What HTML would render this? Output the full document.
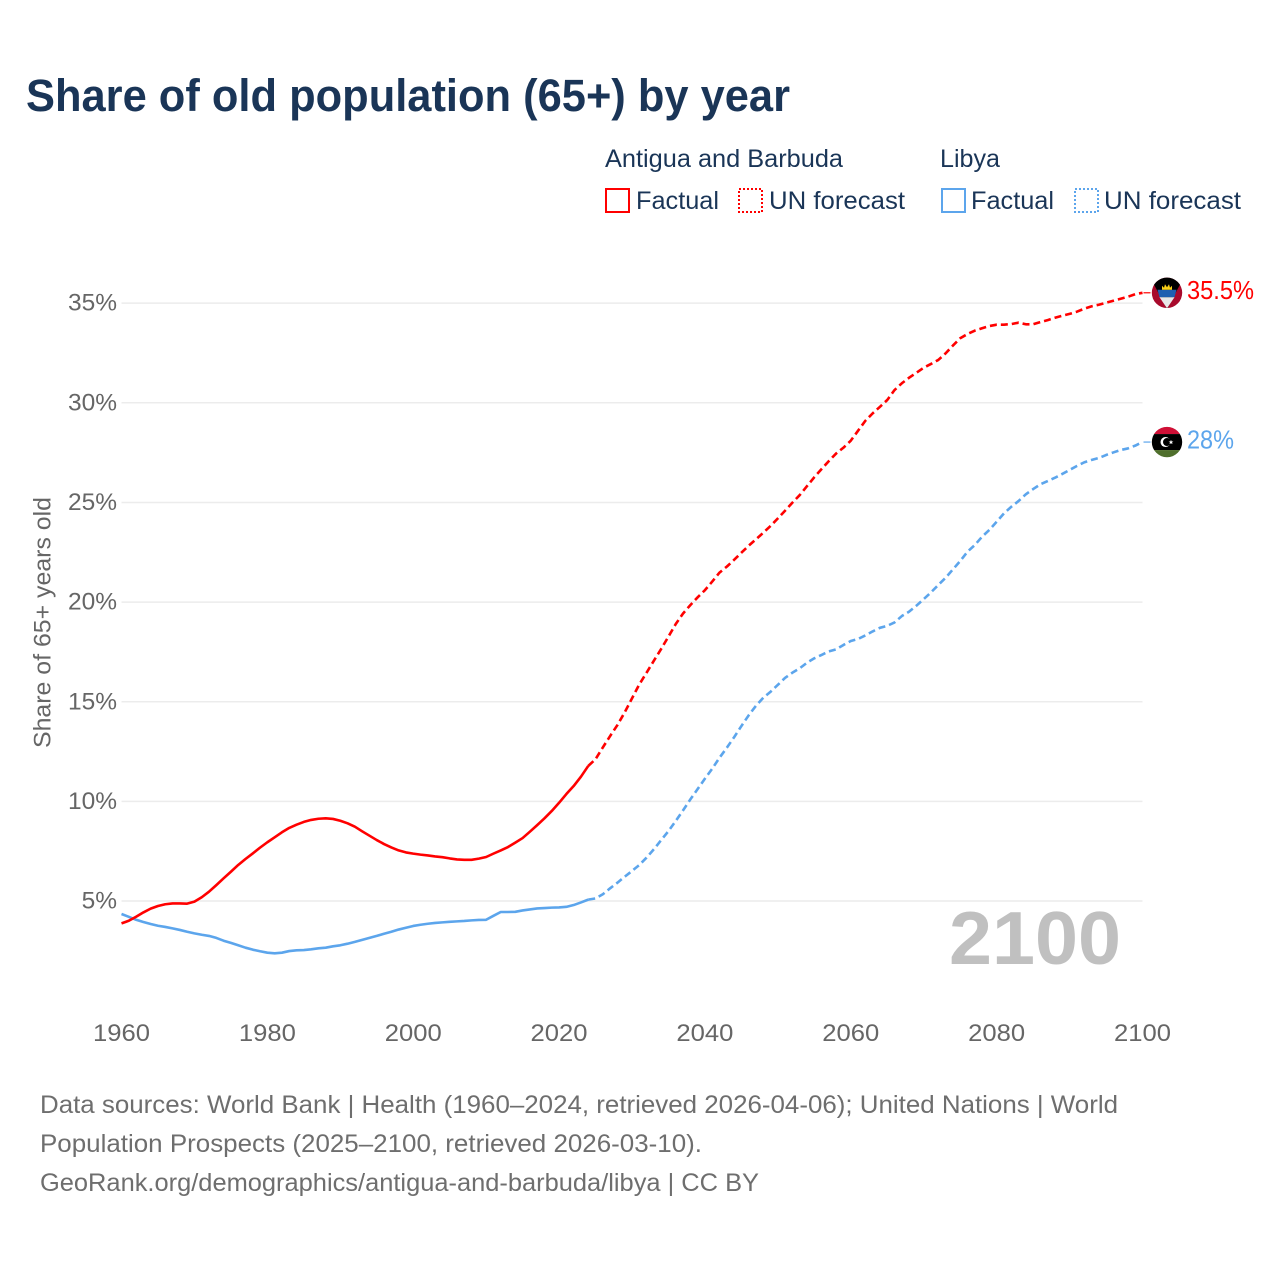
<!DOCTYPE html>
<html lang="en">
<head>
<meta charset="utf-8">
<title>Share of old population (65+) by year</title>
<style>
html,body{margin:0;padding:0;background:#fff;}
svg{display:block;}
text{font-family:"Liberation Sans",sans-serif;}
</style>
</head>
<body>
<svg id="chart" xmlns="http://www.w3.org/2000/svg" width="1280" height="1280" viewBox="0 0 1280 1280">
  <rect x="0" y="0" width="1280" height="1280" fill="#fff"/>
  <text x="26" y="111" font-size="45" font-weight="700" fill="#1a3557" textLength="764" lengthAdjust="spacingAndGlyphs">Share of old population (65+) by year</text>

  <g font-size="25" fill="#1a3557">
    <text x="605" y="167" textLength="238" lengthAdjust="spacingAndGlyphs">Antigua and Barbuda</text>
    <text x="940" y="167" textLength="60" lengthAdjust="spacingAndGlyphs">Libya</text>
    <rect x="606" y="189" width="23" height="23" fill="none" stroke="#ff0000" stroke-width="2"/>
    <text x="636" y="209" textLength="83" lengthAdjust="spacingAndGlyphs">Factual</text>
    <rect x="739" y="189" width="23" height="23" fill="none" stroke="#ff0000" stroke-width="2" stroke-dasharray="2,2"/>
    <text x="769" y="209" textLength="136" lengthAdjust="spacingAndGlyphs">UN forecast</text>
    <rect x="942" y="189" width="23" height="23" fill="none" stroke="#5ca5ec" stroke-width="2"/>
    <text x="971" y="209" textLength="83" lengthAdjust="spacingAndGlyphs">Factual</text>
    <rect x="1075" y="189" width="23" height="23" fill="none" stroke="#5ca5ec" stroke-width="2" stroke-dasharray="2,2"/>
    <text x="1104" y="209" textLength="137" lengthAdjust="spacingAndGlyphs">UN forecast</text>
  </g>

  <g id="grid"></g>
  <g id="yticks"></g>
  <g id="xticks"></g>
  <text transform="translate(50.5,622.5) rotate(-90)" text-anchor="middle" font-size="24" fill="#666" textLength="251" lengthAdjust="spacingAndGlyphs">Share of 65+ years old</text>

  <text x="949" y="964" font-size="75" font-weight="700" fill="#c0c0c0" textLength="172" lengthAdjust="spacingAndGlyphs">2100</text>

  <g id="series" fill="none" stroke-linejoin="round"></g>

  <defs>
    <clipPath id="flagClip"><circle cx="0" cy="0" r="15.2"/></clipPath>
  </defs>
  <g id="flag-antigua">
    <g clip-path="url(#flagClip)">
      <rect x="-16" y="-16" width="32" height="32" fill="#a80a2c"/>
      <polygon points="-14,-16 14,-16 14,-10 0,16 -14,-10" fill="#000"/>
      <polygon points="-9.5,-3 9.5,-3 7.5,4.5 -7.5,4.5" fill="#1f5fb0"/>
      <polygon points="-7.5,4.5 7.5,4.5 0,15.5" fill="#e8e8e8"/>
      <path d="M-5,-3 L-5,-7 L-3,-5 L-2,-8.5 L0,-5.5 L2,-8.5 L3,-5 L5,-7 L5,-3 Z" fill="#fcd116"/>
    </g>
  </g>
  <g id="flag-libya">
    <g clip-path="url(#flagClip)">
      <rect x="-16" y="-16" width="32" height="8" fill="#cf1036"/>
      <rect x="-16" y="-8" width="32" height="16" fill="#000"/>
      <rect x="-16" y="8" width="32" height="8" fill="#4f6f2c"/>
      <circle cx="-1.5" cy="0" r="5" fill="#fff"/>
      <circle cx="0" cy="0" r="4" fill="#000"/>
      <polygon points="4,-2.2 4.7,-0.6 6.4,-0.6 5,0.5 5.5,2.1 4,1.2 2.5,2.1 3,0.5 1.6,-0.6 3.3,-0.6" fill="#fff"/>
    </g>
  </g>
  <g id="end-labels"></g>

  <g font-size="25" fill="#6e6e6e">
    <text x="40" y="1113" textLength="1078" lengthAdjust="spacingAndGlyphs">Data sources: World Bank | Health (1960–2024, retrieved 2026-04-06); United Nations | World</text>
    <text x="40" y="1152" textLength="662" lengthAdjust="spacingAndGlyphs">Population Prospects (2025–2100, retrieved 2026-03-10).</text>
    <text x="40" y="1191" textLength="719" lengthAdjust="spacingAndGlyphs">GeoRank.org/demographics/antigua-and-barbuda/libya | CC BY</text>
  </g>
</svg>

<script>
const yTickValues = [5, 10, 15, 20, 25, 30, 35];
const yTickLabels = ["5%", "10%", "15%", "20%", "25%", "30%", "35%"];
const xTickYears = [1960, 1980, 2000, 2020, 2040, 2060, 2080, 2100];
const xTickLabels = ["1960", "1980", "2000", "2020", "2040", "2060", "2080", "2100"];
const factualStartYear = 1960;
const forecastStartYear = 2024;

const antiguaFactual = [
  3.88,4.01,4.21,4.43,4.62,4.75,4.84,4.88,4.88,4.87,
  4.97,5.19,5.47,5.80,6.14,6.47,6.81,7.11,7.39,7.68,
  7.95,8.20,8.45,8.67,8.83,8.97,9.07,9.13,9.15,9.12,
  9.03,8.90,8.73,8.50,8.28,8.06,7.86,7.69,7.54,7.44,
  7.38,7.33,7.29,7.24,7.20,7.14,7.09,7.07,7.07,7.13,
  7.21,7.38,7.54,7.71,7.93,8.16,8.48,8.81,9.15,9.52,
  9.93,10.37,10.77,11.24,11.78
];
const antiguaForecast = [
  11.78,12.12,12.71,13.28,13.83,14.47,15.17,15.87,16.46,17.06,
  17.65,18.27,18.90,19.43,19.85,20.24,20.60,21.03,21.48,21.78,
  22.12,22.48,22.83,23.15,23.48,23.82,24.20,24.59,24.99,25.37,
  25.82,26.27,26.68,27.08,27.46,27.75,28.10,28.60,29.10,29.47,
  29.80,30.14,30.64,30.98,31.26,31.51,31.76,31.95,32.15,32.48,
  32.87,33.24,33.45,33.62,33.74,33.85,33.92,33.92,33.95,34.02,
  33.94,33.94,34.05,34.15,34.27,34.37,34.46,34.57,34.72,34.84,
  34.92,35.02,35.12,35.22,35.32,35.45,35.52
];
const libyaFactual = [
  4.35,4.21,4.06,3.95,3.85,3.76,3.70,3.63,3.55,3.46,
  3.38,3.31,3.25,3.15,3.01,2.90,2.78,2.66,2.56,2.48,
  2.41,2.38,2.41,2.49,2.53,2.54,2.58,2.63,2.66,2.73,
  2.78,2.86,2.95,3.05,3.15,3.25,3.36,3.46,3.57,3.66,
  3.75,3.81,3.86,3.90,3.93,3.96,3.98,4.00,4.03,4.05,
  4.06,4.26,4.45,4.45,4.46,4.53,4.58,4.63,4.65,4.67,
  4.68,4.71,4.80,4.93,5.07
];
const libyaForecast = [
  5.07,5.13,5.34,5.64,5.92,6.22,6.51,6.81,7.18,7.60,
  8.06,8.51,9.02,9.55,10.10,10.62,11.14,11.64,12.19,12.69,
  13.22,13.78,14.32,14.80,15.20,15.50,15.85,16.20,16.46,16.68,
  16.96,17.18,17.35,17.53,17.63,17.85,18.05,18.15,18.33,18.53,
  18.71,18.81,18.98,19.30,19.52,19.82,20.15,20.49,20.86,21.22,
  21.64,22.06,22.53,22.86,23.28,23.62,24.03,24.45,24.78,25.07,
  25.41,25.67,25.91,26.07,26.24,26.43,26.63,26.83,27.01,27.13,
  27.23,27.38,27.51,27.63,27.71,27.85,28.03
];
const endLabels = ["35.5%", "28%"];

const SVG_NS = "http://www.w3.org/2000/svg";
const PLOT = { left: 121.5, right: 1142.5, x0: 1960, x1: 2100, yBase: 1000.7, yScale: 19.93 };
function xAxis(year) {
  return PLOT.left + (year - PLOT.x0) * (PLOT.right - PLOT.left) / (PLOT.x1 - PLOT.x0);
}
function yAxis(value) {
  return PLOT.yBase - value * PLOT.yScale;
}
function make(tag, parent, attrs) {
  const el = document.createElementNS(SVG_NS, tag);
  for (const k in attrs) el.setAttribute(k, attrs[k]);
  parent.appendChild(el);
  return el;
}
function linePath(startYear, values) {
  return values.map(function (v, i) {
    return (i ? "L" : "M") + xAxis(startYear + i).toFixed(2) + " " + yAxis(v).toFixed(2);
  }).join(" ");
}

const gridGroup = document.getElementById("grid");
const yGroup = document.getElementById("yticks");
yTickValues.forEach(function (v, i) {
  const line = make("line", gridGroup, { x1: PLOT.left, x2: PLOT.right, y1: yAxis(v), y2: yAxis(v), stroke: "#ececec", "stroke-width": 1.5 });
  
  
  const label = make("text", yGroup, { x: 117, y: yAxis(v) + 7.5, "text-anchor": "end", "font-size": 24.5, fill: "#666" });
  
  
  label.textContent = yTickLabels[i];
});

const xGroup = document.getElementById("xticks");
xTickYears.forEach(function (yr, i) {
  const label = make("text", xGroup, { x: xAxis(yr), y: 1041, "text-anchor": "middle", "font-size": 24.5, fill: "#666", textLength: 57, lengthAdjust: "spacingAndGlyphs" });
  
  
  label.textContent = xTickLabels[i];
});

const seriesGroup = document.getElementById("series");
const RED = "#ff0000";
const BLUE = "#5ca5ec";

const libyaFactualLine = make("path", seriesGroup, { d: linePath(factualStartYear, libyaFactual), stroke: BLUE, "stroke-width": 2.6 });



const libyaForecastLine = make("path", seriesGroup, { d: linePath(forecastStartYear, libyaForecast), stroke: BLUE, "stroke-width": 2.6, "stroke-dasharray": "7,4" });



const antiguaFactualLine = make("path", seriesGroup, { d: linePath(factualStartYear, antiguaFactual), stroke: RED, "stroke-width": 2.6 });



const antiguaForecastLine = make("path", seriesGroup, { d: linePath(forecastStartYear, antiguaForecast), stroke: RED, "stroke-width": 2.6, "stroke-dasharray": "7,4" });



const antiguaEnd = antiguaForecast[antiguaForecast.length - 1];
const libyaEnd = libyaForecast[libyaForecast.length - 1];

const antiguaConnector = make("line", seriesGroup, { x1: PLOT.right + 1, x2: PLOT.right + 8, y1: yAxis(antiguaEnd), y2: yAxis(antiguaEnd), stroke: RED, "stroke-width": 1.2 });



const libyaConnector = make("line", seriesGroup, { x1: PLOT.right + 1, x2: PLOT.right + 8, y1: yAxis(libyaEnd), y2: yAxis(libyaEnd), stroke: BLUE, "stroke-width": 1.2 });



document.getElementById("flag-antigua").setAttribute("transform", "translate(1167," + yAxis(antiguaEnd).toFixed(2) + ")");
document.getElementById("flag-libya").setAttribute("transform", "translate(1167," + yAxis(libyaEnd).toFixed(2) + ")");

const labelGroup = document.getElementById("end-labels");
const antiguaLabel = make("text", labelGroup, { x: 1187, y: yAxis(antiguaEnd) + 6, "font-size": 25.5, fill: RED, textLength: 67, lengthAdjust: "spacingAndGlyphs" });


antiguaLabel.textContent = endLabels[0];

const libyaLabel = make("text", labelGroup, { x: 1187, y: yAxis(libyaEnd) + 6.5, "font-size": 25.5, fill: BLUE, textLength: 47, lengthAdjust: "spacingAndGlyphs" });


libyaLabel.textContent = endLabels[1];
</script>
</body>
</html>
